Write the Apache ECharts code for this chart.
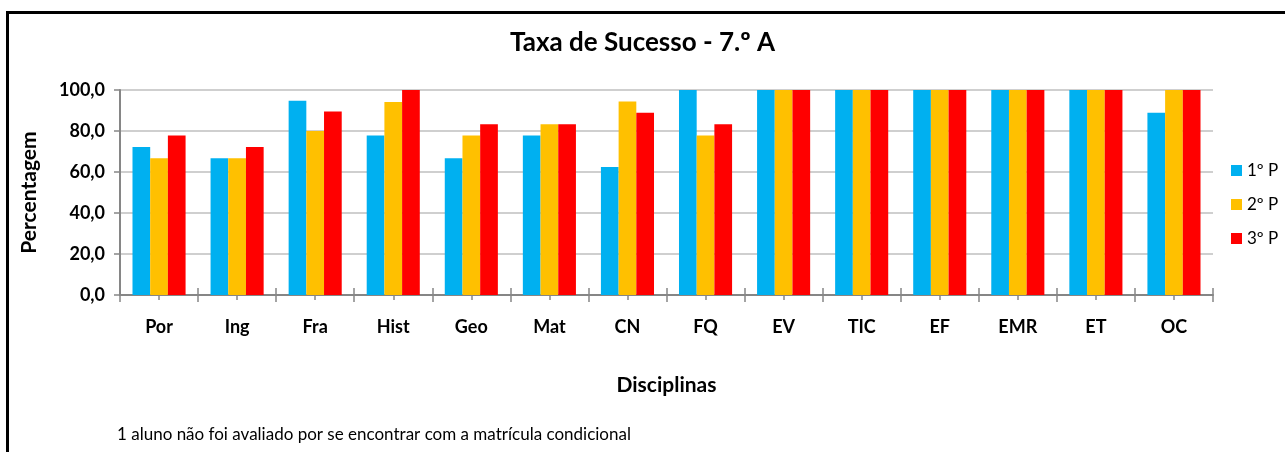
<!DOCTYPE html>
<html>
<head>
<meta charset="utf-8">
<script src="https://cdn.jsdelivr.net/npm/echarts@6/dist/echarts.min.js"></script>
<style>
  html, body { margin: 0; padding: 0; background: #fff; }
  #chart { width: 1285px; height: 452px; }
</style>
</head>
<body>
<div id="chart"></div>
<script>
// dados do gráfico
var disciplinas = ['Por', 'Ing', 'Fra', 'Hist', 'Geo', 'Mat', 'CN', 'FQ', 'EV', 'TIC', 'EF', 'EMR', 'ET', 'OC'];
var periodos = ['1º P', '2º P', '3º P'];
var p1 = [72.2, 66.7, 94.7, 77.8, 66.7, 77.8, 62.5, 100, 100, 100, 100, 100, 100, 88.9];
var p2 = [66.7, 66.7, 80.0, 94.1, 77.8, 83.3, 94.4, 77.8, 100, 100, 100, 100, 100, 100];
var p3 = [77.8, 72.2, 89.5, 100, 83.3, 83.3, 88.9, 83.3, 100, 100, 100, 100, 100, 100];
var yTicks = [0, 20, 40, 60, 80, 100];

var cores = ['#00B0F0', '#FFC000', '#FF0000'];
var fonte = 'Lato, "Open Sans", sans-serif';

var chart = echarts.init(document.getElementById('chart'));

// eixo x extra só para desenhar marcas (sem rótulos)
function eixoMarcas(align, inside, len) {
    return {
        type: 'category',
        data: disciplinas,
        position: 'bottom',
        axisLine: { show: false },
        axisLabel: { show: false },
        axisTick: { show: true, alignWithLabel: align, inside: inside, length: len,
            lineStyle: { color: '#868686', width: 1.5 } },
        splitLine: { show: false }
    };
}

var option = {
    animation: false,
    textStyle: { fontFamily: fonte },
    title: {
        text: 'Taxa de Sucesso - 7.º A',
        left: 'center',
        top: 25,
        textStyle: { fontSize: 26, fontWeight: 'bold', color: '#000', fontFamily: fonte }
    },
    legend: {
        orient: 'vertical',
        left: 1226,
        top: 157,
        itemWidth: 11,
        itemHeight: 11,
        itemGap: 17,
        icon: 'rect',
        data: periodos,
        textStyle: { fontSize: 17, color: '#000', fontFamily: fonte }
    },
    grid: { left: 120, right: 72, top: 90, bottom: 157 },
    xAxis: [
        {
            type: 'category',
            data: disciplinas,
            position: 'bottom',
            name: 'Disciplinas',
            nameLocation: 'middle',
            nameGap: 80,
            nameTextStyle: { fontSize: 21, fontWeight: 'bold', color: '#000' },
            axisLine: { lineStyle: { color: '#868686', width: 2 } },
            axisTick: { show: true, length: 7, lineStyle: { color: '#868686', width: 1.5 } },
            axisLabel: { fontSize: 18, fontWeight: 'bold', color: '#000', margin: 23 }
        },
        eixoMarcas(false, true, 7),
        eixoMarcas(true, false, 5),
        eixoMarcas(true, true, 5)
    ],
    yAxis: {
        type: 'value',
        min: 0,
        max: 100,
        interval: 20,
        name: 'Percentagem',
        nameLocation: 'middle',
        nameGap: 80,
        nameTextStyle: { fontSize: 21, fontWeight: 'bold', color: '#000' },
        axisLine: { show: true, lineStyle: { color: '#868686', width: 2 } },
        axisTick: { show: true, length: 6, lineStyle: { color: '#868686', width: 1.5 } },
        axisLabel: {
            fontSize: 18, fontWeight: 'bold', color: '#000', margin: 15,
            formatter: function (v) {
                return yTicks.indexOf(v) >= 0 ? v.toFixed(1).replace('.', ',') : '';
            }
        },
        splitLine: { lineStyle: { color: '#BFBFBF', width: 1.5 } }
    },
    series: [
        { name: periodos[0], type: 'bar', data: p1, barGap: 0, barCategoryGap: '32%', itemStyle: { color: cores[0] } },
        { name: periodos[1], type: 'bar', data: p2, barGap: 0, barCategoryGap: '32%', itemStyle: { color: cores[1] } },
        { name: periodos[2], type: 'bar', data: p3, barGap: 0, barCategoryGap: '32%', itemStyle: { color: cores[2] } }
    ],
    graphic: [
        {
            type: 'rect',
            shape: { x: 7.5, y: 12.5, width: 1320, height: 500 },
            style: { fill: 'none', stroke: '#000', lineWidth: 3 },
            silent: true
        },
        {
            type: 'text',
            left: 117,
            top: 426,
            style: {
                text: '1 aluno não foi avaliado por se encontrar com a matrícula condicional',
                font: '17px ' + fonte,
                fill: '#000'
            }
        }
    ]
};

chart.setOption(option);
</script>
</body>
</html>
